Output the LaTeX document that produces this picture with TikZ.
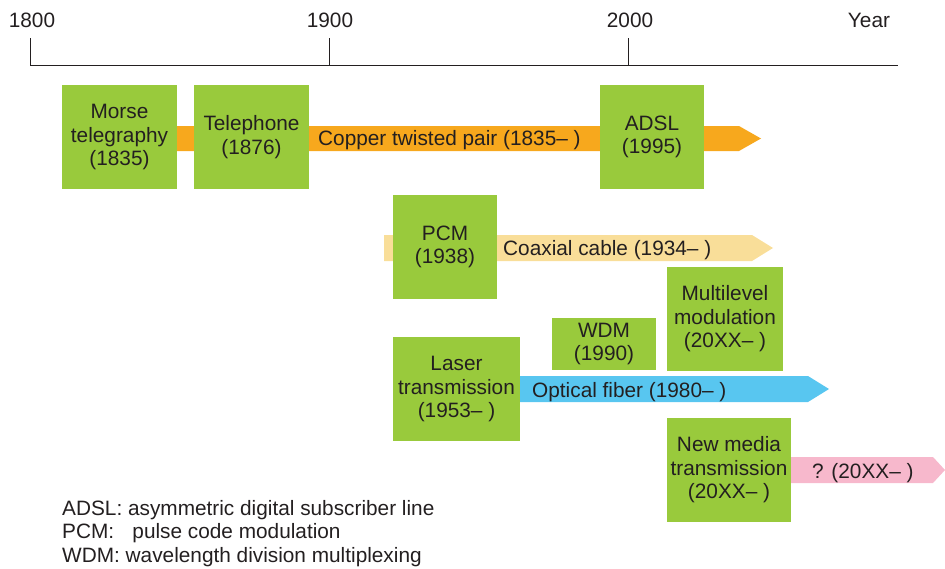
\documentclass[tikz,border=0pt]{standalone}
\usepackage{fontspec}
\setmainfont{Liberation Sans}
\usetikzlibrary{positioning}
\definecolor{boxgreen}{RGB}{153,202,60}
\definecolor{copperorange}{RGB}{247,168,29}
\definecolor{coaxtan}{RGB}{249,222,153}
\definecolor{fiberblue}{RGB}{88,198,240}
\definecolor{newpink}{RGB}{247,184,204}
\definecolor{inkgray}{RGB}{35,31,32}

\begin{document}
\begin{tikzpicture}[x=1pt,y=1pt]
\tikzstyle{every node}+=[inner sep=0pt, text=inkgray, font=\fontsize{20.8}{23.5}\selectfont]
\tikzstyle{tech}=[fill=boxgreen, align=center]
\useasboundingbox (0,0) rectangle (945,-568);
% time axis
\coordinate (y1800) at (30,-65);
\coordinate (y1900) at (329,-65);
\coordinate (y2000) at (628,-65);
\coordinate (axisend) at (898,-65);
\draw [inkgray, line width=0.8] (y1800) -- (axisend);
\draw [inkgray, line width=0.8] (y1800) -- ++(0,27);
\draw [inkgray, line width=0.8] (y1900) -- ++(0,27);
\draw [inkgray, line width=0.8] (y2000) -- ++(0,27);
\node [anchor=base] (l1800) at (32,-27) {1800};
\node [anchor=base] (l1900) at (330,-27) {1900};
\node [anchor=base] (l2000) at (630,-27) {2000};
\node [anchor=base] (lyear) at (869,-27) {Year};
% media bars
\fill [copperorange] (177,-126) -- (739,-126) -- (761,-138.5) -- (739,-151) -- (177,-151) -- cycle;
\fill [coaxtan] (384,-235) -- (752,-235) -- (773,-248) -- (752,-261) -- (384,-261) -- cycle;
\fill [fiberblue] (520,-376) -- (808,-376) -- (829,-389) -- (808,-402) -- (520,-402) -- cycle;
\fill [newpink] (791,-457) -- (933,-457) -- (945,-470) -- (933,-483) -- (791,-483) -- cycle;
\node [anchor=base west] (copper) at (318,-145) {Copper twisted pair (1835-- )};
\node [anchor=base west] (coax) at (503,-255) {Coaxial cable (1934-- )};
\node [anchor=base west] (fiber) at (532,-397) {Optical fiber (1980-- )};
\node [anchor=base west] (newmedia) at (812,-478) {? (20XX-- )};
% technologies
\node [tech, minimum width=115, minimum height=104] (morse) at (119.5,-137) {Morse\\telegraphy\\(1835)};
\node [tech, minimum width=115, minimum height=104] (phone) at (251.5,-137) {Telephone\\(1876)};
\node [tech, minimum width=104, minimum height=104] (adsl) at (652,-137) {ADSL\\(1995)};
\node [tech, minimum width=104, minimum height=104] (pcm) at (445,-247) {PCM\\(1938)};
\node [tech, minimum width=116, minimum height=104] (multi) at (725,-319) {Multilevel\\modulation\\(20XX-- )};
\node [tech, minimum width=104, minimum height=52] (wdm) at (604,-344) {WDM\\(1990)};
\node [tech, minimum width=127, minimum height=104] (laser) at (456.5,-389) {Laser\\transmission\\(1953-- )};
\node [tech, minimum width=124, minimum height=104] (newtx) at (729,-470) {New media\\transmission\\(20XX-- )};
% abbreviations
\node [anchor=base west, align=left] (legend) at (62,-562) {ADSL: asymmetric digital subscriber line\\PCM:\hspace{0.6em} pulse code modulation\\WDM: wavelength division multiplexing};
\end{tikzpicture}
\end{document}
